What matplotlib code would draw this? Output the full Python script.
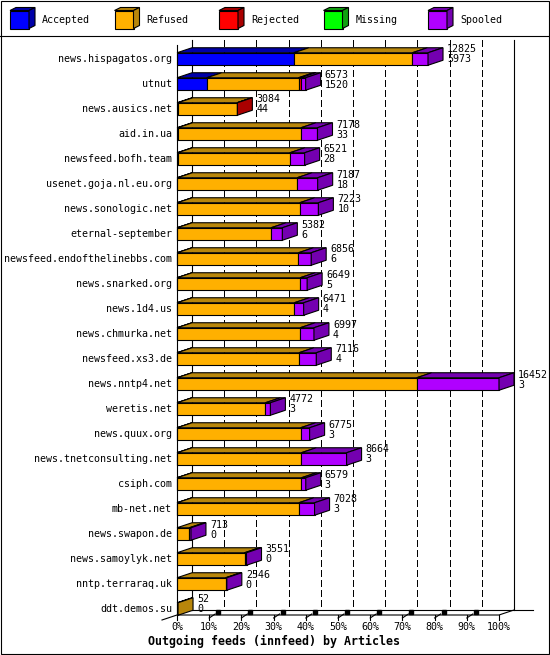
import numpy as np
import matplotlib
matplotlib.use("Agg")
import matplotlib.pyplot as plt
from matplotlib.patches import Rectangle, Polygon

# innfeed outgoing feeds, articles per peer
hosts = ['news.hispagatos.org', 'utnut', 'news.ausics.net', 'aid.in.ua',
         'newsfeed.bofh.team', 'usenet.goja.nl.eu.org', 'news.sonologic.net',
         'eternal-september', 'newsfeed.endofthelinebbs.com', 'news.snarked.org',
         'news.1d4.us', 'news.chmurka.net', 'newsfeed.xs3.de', 'news.nntp4.net',
         'weretis.net', 'news.quux.org', 'news.tnetconsulting.net', 'csiph.com',
         'mb-net.net', 'news.swapon.de', 'news.samoylyk.net', 'nntp.terraraq.uk',
         'ddt.demos.su']
accepted = [5973, 1520, 44, 33, 28, 18, 10, 6, 6, 5, 4, 4, 4, 3, 3, 3, 3, 3, 3,
            0, 0, 0, 0]
refused = [6052, 4690, 3020, 6300, 5742, 6119, 6258, 4800, 6200, 6286, 5990,
           6290, 6227, 12243, 4513, 6312, 6346, 6356, 6223, 633, 3451, 2486, 52]
rejected = [0, 110, 20, 0, 0, 0, 0, 0, 0, 0, 0, 0, 0, 0, 0, 0, 0, 0, 0, 0, 0,
            0, 0]
missing = [0] * 23
spooled = [800, 253, 0, 845, 751, 1050, 955, 576, 650, 358, 477, 703, 885, 4206,
           256, 460, 2315, 220, 802, 80, 100, 60, 0]

series = ['Accepted', 'Refused', 'Rejected', 'Missing', 'Spooled']
front = ['#0000FF', '#FFB000', '#FF0000', '#00FF00', '#B000FF']
dark = ['#0000A8', '#B8860B', '#AA0000', '#10A010', '#7400B0']
pct_ticks = list(range(0, 101, 10))

W, H = 550, 655
fig = plt.figure(figsize=(W / 100, H / 100), dpi=100)
fig.patch.set_facecolor('white')

data = np.array([accepted, refused, rejected, missing, spooled], dtype=float)
totals = data.sum(axis=0)
xmax = totals.max()

# main axes: x = articles (0 -> px 177, max -> px 499), y = row index
X0, XW = 177, 322
ROW0, ROWH = 59, 25
top_row, bot_row = -0.5, 22.5
ax = fig.add_axes([X0 / W, 1 - (ROW0 + bot_row * ROWH) / H, XW / W,
                   (bot_row - top_row) * ROWH / H])
ax.set_xlim(0, xmax)
ax.set_ylim(bot_row, top_row)
ax.axis('off')

px = xmax / XW           # articles per pixel
DX = 15 * px             # depth in x
DY = 5 / ROWH            # depth in rows
BH = 12.5 / ROWH / 2     # half bar height
FONT = 'DejaVu Sans Mono'
LW = 0.8

def row_of(ypx):
    return (ypx - ROW0) / ROWH

back_top, back_floor, front_floor = row_of(40), row_of(610), row_of(615)

# grid on the back wall
for p in pct_ticks[1:-1]:
    x = p / 100 * xmax + DX
    ax.plot([x, x], [back_top, back_floor], color='black', lw=1.0,
            ls=(0, (4.5, 2.5)), zorder=2, clip_on=False, antialiased=False)
# walls and floor
ax.plot([DX, DX], [back_top, back_floor], color='black', lw=LW, zorder=1, clip_on=False)
ax.plot([xmax + DX] * 2, [back_top, back_floor], color='black', lw=LW, zorder=1, clip_on=False)
ax.plot([DX, xmax + DX + 19 * px], [back_floor] * 2, color='black', lw=LW, zorder=1, clip_on=False)
ax.plot([0, 0], [row_of(45), front_floor], color='black', lw=LW, zorder=5, clip_on=False)
ax.plot([-DX, 0, xmax, xmax + DX], [front_floor + DY, front_floor, front_floor, back_floor],
        color='black', lw=LW, zorder=5, clip_on=False)

for p in pct_ticks:
    x = p / 100 * xmax
    ax.plot([x, x], [front_floor, front_floor + 0.2], color='black', lw=LW,
            zorder=5, clip_on=False)
    if 0 < p < 100:
        ax.plot([x, x + 0.4 * DX], [front_floor + 0.12, front_floor - 0.04],
                color='black', lw=LW, zorder=5, clip_on=False)
        ax.plot([x + 0.6 * DX], [front_floor - 0.1], marker='s', ms=2.2,
                color='black', zorder=5, clip_on=False)
    ax.text(x, row_of(627), f'{p}%', ha='center', va='center', fontsize=7.2,
            family=FONT, clip_on=False)

# 3D bars
for i, host in enumerate(hosts):
    y_top, y_bot = i - BH, i + BH
    left = 0.0
    last = None
    for k in range(len(series)):
        w = data[k, i]
        if w <= 0:
            continue
        right = left + w
        ax.add_patch(Rectangle((left, y_top), w, 2 * BH, facecolor=front[k],
                               edgecolor='black', lw=LW, zorder=3, clip_on=False))
        ax.add_patch(Polygon([(left, y_top), (right, y_top), (right + DX, y_top - DY),
                              (left + DX, y_top - DY)], closed=True,
                             facecolor=dark[k], edgecolor='black', lw=LW, zorder=3,
                             clip_on=False))
        left = right
        last = k
    if last is not None:
        ax.add_patch(Polygon([(left, y_top), (left + DX, y_top - DY), (left + DX, y_bot - DY),
                              (left, y_bot)], closed=True, facecolor=dark[last],
                             edgecolor='black', lw=LW, zorder=3, clip_on=False))
    tx = left + DX + 4 * px
    ax.text(tx, i - 0.38, f'{int(totals[i])}', ha='left', va='center', fontsize=7.2,
            family=FONT, zorder=6, clip_on=False)
    ax.text(tx, i + 0.02, f'{accepted[i]}', ha='left', va='center', fontsize=7.2,
            family=FONT, zorder=6, clip_on=False)
    ax.text(-5 * px, i, host, ha='right', va='center', fontsize=7.2, family=FONT,
            clip_on=False)

# decoration layer in pixel coordinates: frame, legend, title
deco = fig.add_axes([0, 0, 1, 1], zorder=-1)
deco.set_xlim(0, W)
deco.set_ylim(H, 0)
deco.axis('off')
deco.add_patch(Rectangle((0.5, 0.5), W - 1.5, H - 2, fill=False, edgecolor='black', lw=LW))
deco.plot([0, W], [35.5, 35.5], color='black', lw=LW)

for k, name in enumerate(series):
    x = 10 + 104.5 * k
    deco.add_patch(Rectangle((x, 10.5), 19, 18, facecolor=front[k], edgecolor='black', lw=LW))
    deco.add_patch(Polygon([(x, 10.5), (x + 19, 10.5), (x + 25, 7.5), (x + 6, 7.5)],
                           closed=True, facecolor=dark[k], edgecolor='black', lw=LW))
    deco.add_patch(Polygon([(x + 19, 10.5), (x + 25, 7.5), (x + 25, 25.5), (x + 19, 28.5)],
                           closed=True, facecolor=dark[k], edgecolor='black', lw=LW))
    deco.text(x + 32, 20, name, ha='left', va='center', fontsize=7.2, family=FONT)

deco.text(273.5, 641, 'Outgoing feeds (innfeed) by Articles', ha='center', va='center',
          fontsize=8.4, family=FONT, fontweight='bold')

fig.savefig('out.png', dpi=100, facecolor='white')
